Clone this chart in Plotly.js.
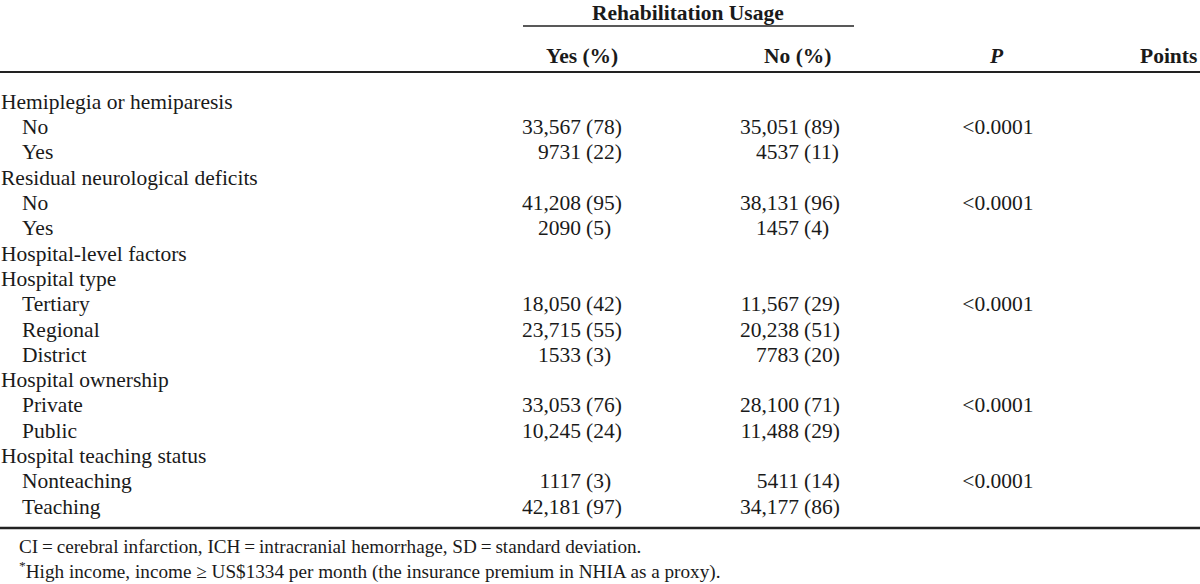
<!DOCTYPE html>
<html><head><meta charset="utf-8">
<script src="https://cdn.plot.ly/plotly-3.0.1.min.js"></script>
<style>html,body{margin:0;padding:0;background:#fff;}#chart{width:1200px;height:584px;}</style>
</head><body><div id="chart"></div>
<script>
// ---------------- data ----------------
const rowLabels = ["Hemiplegia or hemiparesis","No","Yes","Residual neurological deficits","No","Yes",
  "Hospital-level factors","Hospital type","Tertiary","Regional","District","Hospital ownership",
  "Private","Public","Hospital teaching status","Nonteaching","Teaching"];
const rowIndent = [0,1,1,0,1,1,0,0,1,1,1,0,1,1,0,1,1];
const yesCount = [null,33567,9731,null,41208,2090,null,null,18050,23715,1533,null,33053,10245,null,1117,42181];
const yesPct   = [null,78,22,null,95,5,null,null,42,55,3,null,76,24,null,3,97];
const noCount  = [null,35051,4537,null,38131,1457,null,null,11567,20238,7783,null,28100,11488,null,5411,34177];
const noPct    = [null,89,11,null,96,4,null,null,29,51,20,null,71,29,null,14,86];
const pValues  = [null,"&lt;0.0001",null,null,"&lt;0.0001",null,null,null,"&lt;0.0001",null,null,null,"&lt;0.0001",null,null,"&lt;0.0001",null];
const spanHeader = "Rehabilitation Usage";
const colHeaders = ["Yes (%)","No (%)","<i>P</i>","Points"];
const footnotes = [
  "CI\u2009=\u2009cerebral infarction, ICH\u2009=\u2009intracranial hemorrhage, SD\u2009=\u2009standard deviation.",
  "<sup>*</sup>High income, income \u2265 US$1334 per month (the insurance premium in NHIA as a proxy)."
];

// ---------------- layout constants ----------------
const FONT = "Liberation Serif, 'Times New Roman', serif";
const INK = "#1a1a1a";
const FS = 21.5, FS_NOTE = 19.2;
const ROW0 = 103.5, PITCH = 25.3;
const X_LABEL = 1, X_INDENT = 22;
const X_YES_NUM = 581, X_YES_PCT = 586;
const X_NO_NUM = 799, X_NO_PCT = 804;
const X_P = 998;

function fmt(n){ return n >= 10000 ? String(n).replace(/\B(?=(\d{3})+(?!\d))/g, ",") : String(n); }
const rowY = rowLabels.map((_, i) => ROW0 + i * PITCH);
function pick(arr, f){ const ys=[], ts=[]; arr.forEach((v,i)=>{ if(v!==null && v!==undefined){ ys.push(rowY[i]); ts.push(f(v)); } }); return {ys, ts}; }

const font = {family: FONT, size: FS, color: INK};
function textTrace(x, ys, ts, pos){
  return {type:'scatter', mode:'text', x: ys.map(()=>x), y: ys, text: ts, textposition: pos,
    textfont: font, hoverinfo:'skip', cliponaxis:false, showlegend:false};
}

const traces = [];
traces.push({type:'scatter', mode:'text', x: rowIndent.map(d => d ? X_INDENT : X_LABEL), y: rowY,
  text: rowLabels, textposition:'middle right', textfont: font, hoverinfo:'skip', cliponaxis:false, showlegend:false});
let s;
s = pick(yesCount, fmt); traces.push(textTrace(X_YES_NUM, s.ys, s.ts, 'middle left'));
s = pick(yesPct, v => "(" + v + ")"); traces.push(textTrace(X_YES_PCT, s.ys, s.ts, 'middle right'));
s = pick(noCount, fmt); traces.push(textTrace(X_NO_NUM, s.ys, s.ts, 'middle left'));
s = pick(noPct, v => "(" + v + ")"); traces.push(textTrace(X_NO_PCT, s.ys, s.ts, 'middle right'));
s = pick(pValues, v => v); traces.push(textTrace(X_P, s.ys, s.ts, 'middle center'));

const bold = {family: FONT, size: FS, color: INK, weight: 'bold'};
function ann(text, x, y, xanchor, f){ return {text: "<b>"+text+"</b>", x, y, xref:'x', yref:'y', xanchor, yanchor:'middle', showarrow:false, font: f || bold}; }
const noteFont = {family:FONT, size:FS_NOTE, color:INK};
const annotations = [
  ann(spanHeader, 688, 13, 'center'),
  ann(colHeaders[0], 582, 56, 'center'),
  ann(colHeaders[1], 797, 56, 'center'),
  ann(colHeaders[2], 996, 56, 'center'),
  ann(colHeaders[3], 1199, 56, 'right'),
  {text: footnotes.join("<br>"), x: 17, y: 559, xref:'x', yref:'y', xanchor:'left', yanchor:'middle', align:'left', showarrow:false, font: noteFont}
];

const RULE = "#222";
const shapes = [
  {type:'line', xref:'x', yref:'y', x0:523, x1:854, y0:26, y1:26, line:{color:RULE, width:1.6}},
  {type:'line', xref:'x', yref:'y', x0:0, x1:1200, y0:72, y1:72, line:{color:RULE, width:2}},
  {type:'line', xref:'x', yref:'y', x0:0, x1:1200, y0:528, y1:528, line:{color:RULE, width:2.6}}
];

const layout = {
  width:1200, height:584, margin:{l:0,r:0,t:0,b:0,pad:0},
  paper_bgcolor:'#fff', plot_bgcolor:'#fff',
  xaxis:{range:[0,1200], visible:false, fixedrange:true},
  yaxis:{range:[584,0], visible:false, fixedrange:true},
  annotations, shapes, showlegend:false
};
Plotly.newPlot('chart', traces, layout, {staticPlot:true, displayModeBar:false});
</script></body></html>
